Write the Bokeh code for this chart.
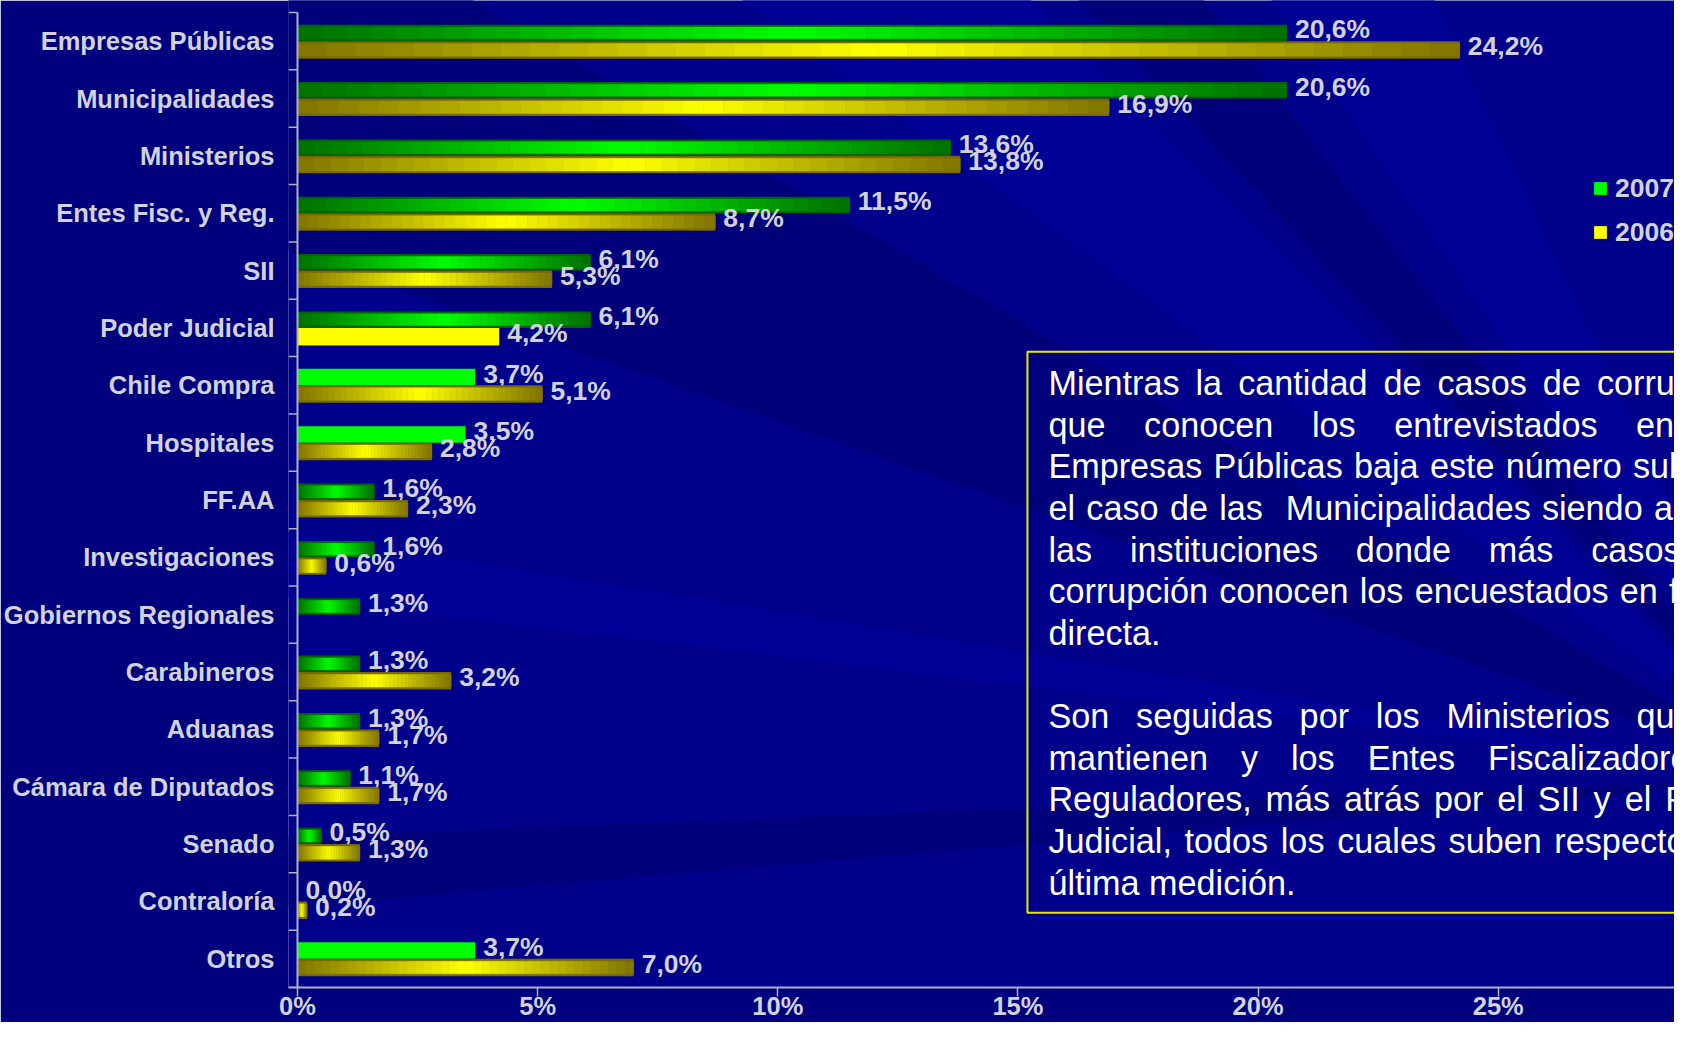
from bokeh.plotting import figure
from bokeh.models import Range1d, FixedTicker, Legend, LegendItem
from bokeh.core.properties import value
from bokeh.embed import file_html
from bokeh.resources import INLINE

# ---------------- data ----------------
categories = ["Empresas Públicas", "Municipalidades", "Ministerios", "Entes Fisc. y Reg.",
              "SII", "Poder Judicial", "Chile Compra", "Hospitales", "FF.AA",
              "Investigaciones", "Gobiernos Regionales", "Carabineros", "Aduanas",
              "Cámara de Diputados", "Senado", "Contraloría", "Otros"]
values_2007 = [20.6, 20.6, 13.6, 11.5, 6.1, 6.1, 3.7, 3.5, 1.6, 1.6, 1.3, 1.3, 1.3, 1.1, 0.5, 0.0, 3.7]
values_2006 = [24.2, 16.9, 13.8, 8.7, 5.3, 4.2, 5.1, 2.8, 2.3, 0.6, None, 3.2, 1.7, 1.7, 1.3, 0.2, 7.0]
series_names = ["2007", "2006"]
x_ticks = [0, 5, 10, 15, 20, 25]
x_tick_labels = ["0%", "5%", "10%", "15%", "20%", "25%"]
solid_2007 = ["Chile Compra", "Hospitales", "Otros"]
solid_2006 = ["Poder Judicial"]

box_lines = [
    ("Mientras la cantidad de casos de corrupción", True),
    ("que conocen los entrevistados en las", True),
    ("Empresas Públicas baja este número sube en", True),
    ("el caso de las  Municipalidades siendo ambas", True),
    ("las instituciones donde más casos de", True),
    ("corrupción conocen los encuestados en forma", True),
    ("directa.", False),
    ("", False),
    ("Son seguidas por los Ministerios que se", True),
    ("mantienen y los Entes Fiscalizadores y", True),
    ("Reguladores, más atrás por el SII y el Poder", True),
    ("Judicial, todos los cuales suben respecto a la", True),
    ("última medición.", False),
]

# ---------------- geometry (picture pixels) ----------------
W, H = 1674, 1022
FL, FB = 286, 33
X0 = 295.0          # x pixel of 0 %
PXP = 48.1          # pixels per 1 %
x_start = (FL - X0) / PXP
x_end = (W - X0) / PXP
Y_TOP = 12.0        # first category boundary
Y_AX = H - FB       # x-axis line
UNIT = (Y_AX - Y_TOP) / 17.0
y_top_data = -0.5 - Y_TOP / UNIT


def dx(px):
    return (px - X0) / PXP


def dy(py):
    return -0.5 + (py - Y_TOP) / UNIT


BG = "#00008a"
BORDER = "#00007e"
AXC = "#aeb0c8"
LBL = "#d2d2da"
FONT = "Liberation Sans"

p = figure(width=W, height=H, x_range=Range1d(x_start, x_end),
           y_range=Range1d(16.5, y_top_data), output_backend="svg",
           toolbar_location=None, min_border_left=FL, min_border_right=0,
           min_border_top=0, min_border_bottom=FB, background_fill_color=BG,
           border_fill_color=BORDER, outline_line_color=None)
p.grid.visible = False

# ---------------- background streaks ----------------
F = (1800, 780)
light = [[(700, -30), (1000, -30)], [(1250, -30), (1420, -30)],
         [(-30, 480), (-30, 560)], [(1700, 190), (1700, 320)]]
dark = [[(-30, 140), (-30, -30), (420, -30)], [(-30, 850), (-30, 935)],
        [(1050, -30), (1180, -30)]]
xs, ys, cs = [], [], []
for pts, col in [(d, "#00007a") for d in dark] + [(l, "#000095") for l in light]:
    poly = [F] + pts
    xs.append([dx(a) for a, b in poly])
    ys.append([dy(b) for a, b in poly])
    cs.append(col)
p.patches(xs, ys, fill_color=cs, line_color=None)


# ---------------- bars ----------------
def mix(c1, c2, t):
    return "#%02x%02x%02x" % tuple(int(round(a + (b - a) * t)) for a, b in zip(c1, c2))


specs = [
    (values_2007, solid_2007, -0.1435, 0.287, (0, 100, 0), (0, 112, 0), (0, 255, 0), "#00ff00"),
    (values_2006, solid_2006, 0.1525, 0.305, (118, 106, 0), (128, 116, 0), (255, 255, 0), "#ffff00"),
]
N = 40
legend_items = []
for s_i, (vals, solids, off, hgt, edge, dark_c, bright_c, solid_col) in enumerate(specs):
    idx = [i for i, v in enumerate(vals) if v is not None]
    base_cols = [solid_col if categories[i] in solids else mix(edge, edge, 0) for i in idx]
    base = p.hbar(y=[i + off for i in idx], left=0, right=[vals[i] for i in idx], height=hgt,
                  fill_color=base_cols, line_color=None)
    sy_, sl, sr, sc = [], [], [], []
    for i in idx:
        v = vals[i]
        if categories[i] in solids or v <= 0:
            continue
        for k in range(N):
            t = 1 - abs(2 * (k + 0.5) / N - 1)
            sy_.append(i + off)
            sl.append(v * k / N)
            sr.append(v * (k + 1) / N)
            sc.append(mix(dark_c, bright_c, t))
    p.hbar(y=sy_, left=sl, right=sr, height=hgt * 0.72, fill_color=sc, line_color=sc,
           line_width=0.5)
    li = idx.index(categories.index(solids[0]))
    legend_items.append(LegendItem(label=series_names[s_i], renderers=[base], index=li))

    labels = [("%.1f%%" % vals[i]).replace(".", ",") for i in idx]
    p.text(x=[vals[i] for i in idx], y=[i + off for i in idx], text=labels,
           x_offset=8, y_offset=-3.5, text_baseline="middle", text_align="left",
           text_font=value(FONT), text_font_style="bold", text_font_size="26.5px",
           text_color=LBL)

# ---------------- axes ----------------
tick_len = 9 / PXP
bounds = [i - 0.5 for i in range(18)]
p.segment(x0=[-tick_len] * len(bounds), y0=bounds, x1=[0] * len(bounds), y1=bounds,
          line_color=AXC, line_width=1.5)
p.segment(x0=[0], y0=[-0.5], x1=[0], y1=[16.5], line_color=AXC, line_width=2)

xa = p.xaxis[0]
xa.ticker = FixedTicker(ticks=x_ticks)
xa.major_label_overrides = dict(zip(x_ticks, x_tick_labels))
xa.minor_tick_line_color = None
xa.major_tick_out = 9
xa.major_tick_in = 0
xa.major_tick_line_color = AXC
xa.major_tick_line_width = 1.5
xa.axis_line_color = AXC
xa.axis_line_width = 2
xa.major_label_standoff = -5
xa.major_label_text_font = FONT
xa.major_label_text_font_style = "bold"
xa.major_label_text_font_size = "25.5px"
xa.major_label_text_color = LBL

ya = p.yaxis[0]
ya.ticker = FixedTicker(ticks=list(range(len(categories))))
ya.major_label_overrides = {i: c for i, c in enumerate(categories)}
ya.major_tick_out = 0
ya.major_tick_in = 0
ya.minor_tick_line_color = None
ya.axis_line_color = None
ya.major_label_standoff = 14
ya.major_label_text_font = FONT
ya.major_label_text_font_style = "bold"
ya.major_label_text_font_size = "25.5px"
ya.major_label_text_color = LBL

# ---------------- legend ----------------
legend = Legend(items=legend_items, location=(1590 - FL, Y_AX - 249.6),
                glyph_width=16, glyph_height=16, label_standoff=7, spacing=13,
                padding=0, margin=0, background_fill_alpha=0, border_line_alpha=0,
                label_text_font=FONT, label_text_font_style="bold",
                label_text_font_size="26.5px", label_text_color=LBL)
p.add_layout(legend)

# ---------------- text box ----------------
p.quad(left=[dx(1026)], right=[dx(1820)], top=[dy(352)], bottom=[dy(914)],
       fill_color=None, line_color="#e8e800", line_width=2)

AW = dict(a=556, b=556, c=500, d=556, e=556, f=278, g=556, h=556, i=222, j=222, k=500,
          l=222, m=833, n=556, o=556, p=556, q=556, r=333, s=500, t=278, u=556, v=500,
          w=722, x=500, y=500, z=500, A=667, B=667, C=722, D=722, E=667, F=611, G=778,
          H=722, I=278, J=500, K=667, L=556, M=833, N=722, O=778, P=667, Q=778, R=722,
          S=667, T=611, U=722, V=667, W=944, X=667, Y=667, Z=611)
AW.update({" ": 278, ",": 278, ".": 278, "á": 556, "é": 556, "í": 278, "ó": 556, "ú": 556})
FS = 34.2


def tw(s):
    return sum(AW.get(ch, 556) for ch in s) / 1000.0 * FS


L_px, R_px = 1047.0, 1756.0
CAP_MID = 0.358 * FS
wx, wy, wt = [], [], []
for k, (line, just) in enumerate(box_lines):
    if not line:
        continue
    mid_y = dy(395.7 + k * 41.7 - CAP_MID)
    if not just:
        wx.append(dx(L_px)); wy.append(mid_y); wt.append(line)
        continue
    toks = line.split(" ")
    extra = (R_px - L_px - tw(line)) / (len(toks) - 1)
    x = L_px
    for tok in toks:
        if tok and x < W - 2:
            wx.append(dx(x)); wy.append(mid_y); wt.append(tok)
        x += tw(tok) + tw(" ") + extra
p.text(x=wx, y=wy, text=wt, text_font=value(FONT), text_font_size="%.1fpx" % FS,
       text_color="#ffffff", text_baseline="middle", text_align="left")

open("out.html", "w").write(file_html(p, INLINE))
